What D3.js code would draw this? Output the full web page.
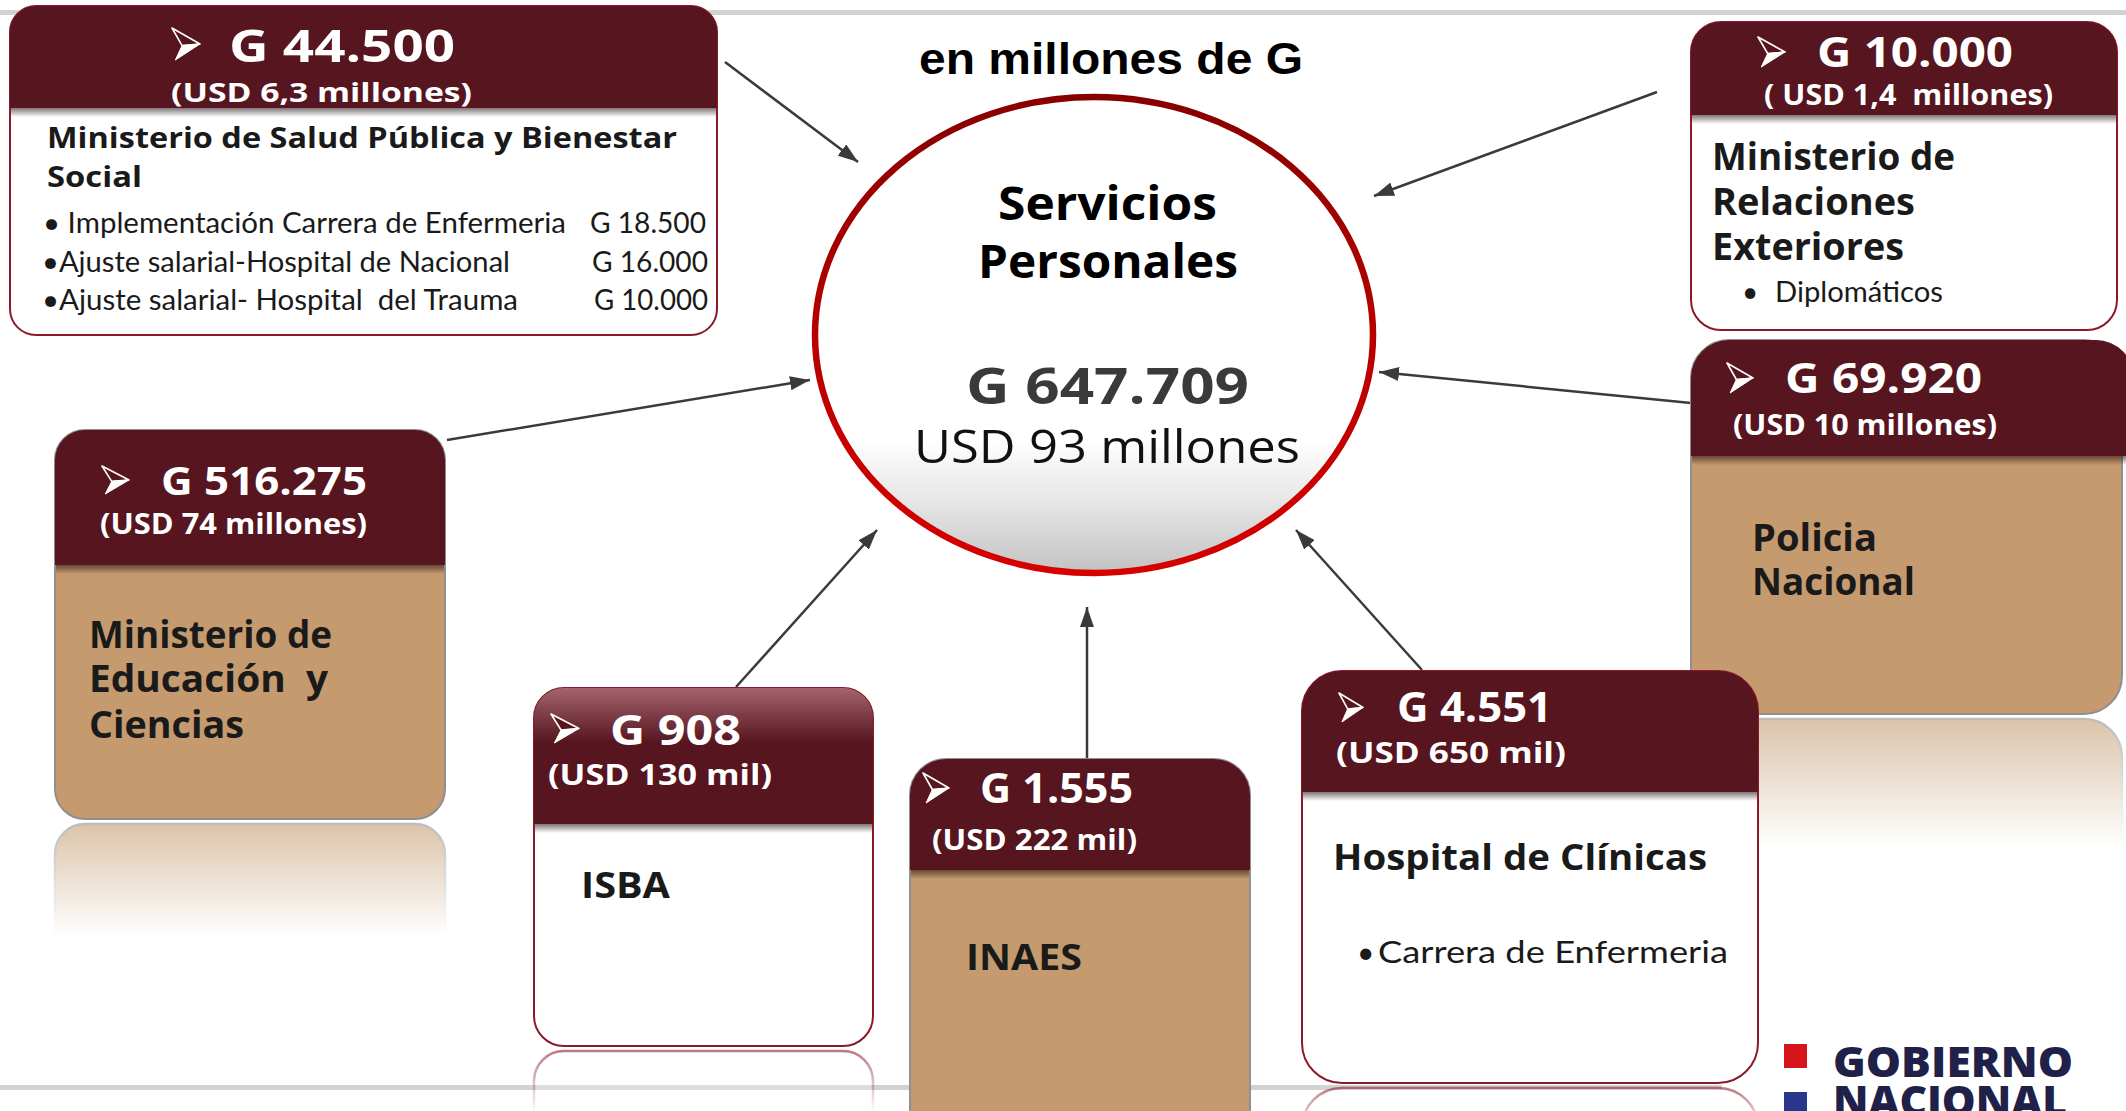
<!DOCTYPE html>
<html><head><meta charset="utf-8">
<script src="https://cdn.jsdelivr.net/npm/d3@7"></script>
<style>html,body{margin:0;padding:0;background:#fff;overflow:hidden}text{white-space:pre}</style>
</head><body><svg id="c"></svg>
<script>
// ---------------- DATA ----------------
const chartTitle = "en millones de G";
const centerTitle = ["Servicios", "Personales"];
const totalG = 647709;
const totalUSD = "USD 93 millones";
const entityLines = [
  ["Ministerio de Salud Pública y Bienestar", "Social"],
  ["Ministerio de", "Relaciones", "Exteriores"],
  ["Ministerio de", "Educación  y", "Ciencias"],
  ["Policia", "Nacional"],
  ["ISBA"],
  ["INAES"],
  ["Hospital de Clínicas"]
];
const amountsG = [44500, 10000, 516275, 69920, 908, 1555, 4551];
const amountsUSD = ["(USD 6,3 millones)", "( USD 1,4  millones)", "(USD 74 millones)", "(USD 10 millones)", "(USD 130 mil)", "(USD 222 mil)", "(USD 650 mil)"];
const entityNotes = [null, "Diplomáticos", null, null, null, null, "Carrera de Enfermeria"];
const mspItems = ["• Implementación Carrera de Enfermeria", "•Ajuste salarial-Hospital de Nacional", "•Ajuste salarial- Hospital  del Trauma"];
const mspItemValues = [18500, 16000, 10000];
const logoLines = ["GOBIERNO", "NACIONAL"];

// ---------------- LAYOUT ----------------
const W = 2126, H = 1111;
const MAROON = "#56151f", TAN = "#c49a6e", BORDER = "#8a1a2a";
const boxLayout = [
  {x:10,y:6,w:707,h:329,hh:102,r:26,tan:false,arrow:[172,28,28,32],num:{x:229,y:62,fs:45,w:226},usd:{x:171,y:102,fs:27,w:301},title:{x:47,ys:[148,187],fs:29,ws:[630,95]}},
  {x:1691,y:22,w:426,h:308,hh:93,r:30,tan:false,arrow:[1758,37,27,30],num:{x:1817,y:67,fs:42,w:196},usd:{x:1764,y:105,fs:29,w:289},title:{x:1712,ys:[170,215,260],fs:37,ws:[243,203,192]},note:{bx:1742,x:1775,y:302,fs:28,w:168}},
  {x:55,y:430,w:390,h:389,hh:135,r:30,tan:true,refl:110,arrow:[102,466,27,28],num:{x:161,y:495,fs:40,w:206},usd:{x:100,y:534,fs:28,w:267},title:{x:89,ys:[648,692,738],fs:37,ws:[243,239,155]}},
  {x:1691,y:340,w:431,h:374,hh:116,r:38,tan:true,refl:126,extra:12,arrow:[1727,363,26,30],num:{x:1785,y:393,fs:42,w:197},usd:{x:1733,y:435,fs:28,w:264},title:{x:1752,ys:[551,595],fs:38,ws:[125,163]}},
  {x:534,y:688,w:339,h:358,hh:136,r:30,tan:false,refl:60,gloss:true,arrow:[551,714,28,29],num:{x:610,y:745,fs:41,w:131},usd:{x:548,y:785,fs:29,w:224},title:{x:581,ys:[898],fs:36,ws:[89]}},
  {x:910,y:759,w:340,h:420,hh:111,r:36,tan:true,arrow:[923,773,26,30],num:{x:980,y:803,fs:41,w:153},usd:{x:932,y:850,fs:28,w:205},title:{x:966,ys:[970],fs:36,ws:[116]}},
  {x:1302,y:671,w:456,h:412,hh:121,r:40,tan:false,refl:40,arrow:[1339,693,24,29],num:{x:1397,y:722,fs:41,w:155},usd:{x:1336,y:763,fs:29,w:230},title:{x:1333,ys:[870],fs:35,ws:[374]},note:{bx:1357,x:1378,y:963,fs:30,w:350}}
];
const mspItemLayout = {x:[43,42,42], w:[523,468,476], vx:[590,592,594], vw:[116,116,114], ys:[233,272,310], fs:28};
const connectors = [[725,62,858,162],[1657,92,1374,196],[447,440,810,380],[1691,403,1379,372],[736,687,877,530],[1087,759,1087,607],[1422,670,1296,530]];

// ---------------- DRAW ----------------
const HEAD = "'Open Sans', sans-serif", BODY = "Lato, sans-serif";
const svg = d3.select("#c").attr("width", W).attr("height", H).attr("viewBox", `0 0 ${W} ${H}`);
svg.append("rect").attr("width", W).attr("height", H).attr("fill", "#fff");
const defs = svg.append("defs");
const es = d3.formatLocale({decimal: ",", thousands: ".", grouping: [3], currency: ["", ""]});
const fmt = es.format(",");
const gLabel = v => "G " + fmt(v);

function linGrad(id, stops) {
  const g = defs.append("linearGradient").attr("id", id).attr("x1", 0).attr("y1", 0).attr("x2", 0).attr("y2", 1);
  stops.forEach(([o, c, op]) => g.append("stop").attr("offset", o).attr("stop-color", c).attr("stop-opacity", op == null ? 1 : op));
}
linGrad("ellFill", [[0, "#fff"], [0.72, "#fff"], [0.85, "#e6e6e6"], [1, "#c2c2c2"]]);
linGrad("ellStroke", [[0, "#870000"], [0.5, "#b80000"], [1, "#d60000"]]);
linGrad("hdrShadow", [[0, "#1a0508", 0.55], [1, "#1a0508", 0]]);
linGrad("gloss", [[0, "#a4646e"], [0.4, MAROON], [1, MAROON]]);
linGrad("fade", [[0, "#fff", 0.6], [1, "#fff", 0]]);

defs.append("marker").attr("id", "ah").attr("viewBox", "0 0 10 10").attr("refX", 10).attr("refY", 5)
  .attr("markerWidth", 20).attr("markerHeight", 14).attr("markerUnits", "userSpaceOnUse")
  .attr("preserveAspectRatio", "none").attr("orient", "auto")
  .append("path").attr("d", "M0,0 L10,5 L0,10 Z").attr("fill", "#3a3a3a");

function rr(x, y, w, h, rt, rb) {
  return `M${x},${y + rt} A${rt},${rt} 0 0 1 ${x + rt},${y} L${x + w - rt},${y} A${rt},${rt} 0 0 1 ${x + w},${y + rt} L${x + w},${y + h - rb} A${rb},${rb} 0 0 1 ${x + w - rb},${y + h} L${x + rb},${y + h} A${rb},${rb} 0 0 1 ${x},${y + h - rb} Z`;
}
function txt(g, s, x, y, o) {
  const t = g.append("text").attr("x", x).attr("y", y).text(s)
    .attr("font-family", o.ff || HEAD).attr("font-size", o.fs).attr("font-weight", o.fw || 700)
    .attr("fill", o.fill || "#1a1a1a");
  if (o.w) t.attr("textLength", o.w).attr("lengthAdjust", "spacingAndGlyphs");
  if (o.anchor) t.attr("text-anchor", o.anchor);
  return t;
}

// gray rules
svg.append("rect").attr("x", 0).attr("y", 10).attr("width", W).attr("height", 5).attr("fill", "#d2d2d2");
svg.append("rect").attr("x", 0).attr("y", 1085).attr("width", 1722).attr("height", 5).attr("fill", "#d2d2d2");

// connectors
svg.append("g").selectAll("line").data(connectors).join("line")
  .attr("x1", d => d[0]).attr("y1", d => d[1]).attr("x2", d => d[2]).attr("y2", d => d[3])
  .attr("stroke", "#3a3a3a").attr("stroke-width", 2.5).attr("marker-end", "url(#ah)");

// title
txt(svg, chartTitle, 919, 74, {ff: "'Liberation Sans', Arial, sans-serif", fs: 45, w: 384, fill: "#000"});

// center ellipse
svg.append("ellipse").attr("cx", 1094).attr("cy", 335).attr("rx", 279).attr("ry", 238)
  .attr("fill", "url(#ellFill)").attr("stroke", "url(#ellStroke)").attr("stroke-width", 6.5);
txt(svg, centerTitle[0], 1107.5, 220, {fs: 46, w: 219, anchor: "middle", fill: "#000"});
txt(svg, centerTitle[1], 1108, 278, {fs: 46, w: 260, anchor: "middle", fill: "#000"});
txt(svg, gLabel(totalG), 1107.5, 404, {fs: 50, w: 283, anchor: "middle", fill: "#3a3a3a"});
txt(svg, totalUSD, 1107, 463, {fs: 46, w: 386, fw: 400, anchor: "middle", fill: "#111"});

// boxes
boxLayout.forEach((L, i) => {
  const g = svg.append("g");
  const fill = L.tan ? TAN : "#fff";
  const stroke = L.tan ? "#8f8f8f" : BORDER;
  const ex = L.extra || 0;
  if (L.refl) {
    const ry = L.y + L.h + 5;
    const mid = "m" + i;
    const mk = defs.append("mask").attr("id", mid).attr("maskUnits", "userSpaceOnUse")
      .attr("x", L.x - 5).attr("y", ry - 2).attr("width", L.w + 10).attr("height", L.refl + 4);
    mk.append("rect").attr("x", L.x - 5).attr("y", ry - 2).attr("width", L.w + 10).attr("height", L.refl + 4).attr("fill", "url(#fade)");
    g.append("path").attr("d", rr(L.x, ry, L.w, L.refl + 60, L.r, 0))
      .attr("fill", fill).attr("stroke", stroke).attr("stroke-width", 2.5).attr("mask", `url(#${mid})`);
  }
  g.append("path").attr("d", rr(L.x, L.y, L.w, L.h, L.r, L.r))
    .attr("fill", fill).attr("stroke", stroke).attr("stroke-width", 2);
  g.append("path").attr("d", rr(L.x, L.y, L.w + ex, L.hh, L.r, 0))
    .attr("fill", L.gloss ? "url(#gloss)" : MAROON);
  g.append("rect").attr("x", L.x + 1).attr("y", L.y + L.hh).attr("width", L.w - 2 + ex).attr("height", 9).attr("fill", "url(#hdrShadow)");
  // arrowhead glyph
  const [ax, ay, aw, ah] = L.arrow;
  const A = [ax, ay], T = [ax + aw, ay + ah * 0.5], B = [ax + aw * 0.12, ay + ah], N = [ax + aw * 0.36, ay + ah * 0.55];
  g.append("path").attr("d", `M${A}L${T}L${N}Z`).attr("fill", MAROON).attr("stroke", "#fff").attr("stroke-width", 1.6).attr("stroke-linejoin", "round");
  g.append("path").attr("d", `M${N}L${T}L${B}Z`).attr("fill", "#fff").attr("stroke", "#fff").attr("stroke-width", 1).attr("stroke-linejoin", "round");
  txt(g, gLabel(amountsG[i]), L.num.x, L.num.y, {fs: L.num.fs, w: L.num.w, fill: "#fff"});
  txt(g, amountsUSD[i], L.usd.x, L.usd.y, {fs: L.usd.fs, w: L.usd.w, fill: "#fff"});
  entityLines[i].forEach((s, k) => txt(g, s, L.title.x, L.title.ys[k], {fs: L.title.fs, w: L.title.ws[k], fill: "#1a1a1a"}));
  if (entityNotes[i] && L.note) {
    txt(g, "•", L.note.bx, L.note.y, {ff: BODY, fs: L.note.fs, fw: 400});
    txt(g, entityNotes[i], L.note.x, L.note.y, {ff: BODY, fs: L.note.fs, fw: 400, w: L.note.w});
  }
  if (i === 0) {
    mspItems.forEach((s, k) => {
      txt(g, s, mspItemLayout.x[k], mspItemLayout.ys[k], {ff: BODY, fs: mspItemLayout.fs, fw: 400, w: mspItemLayout.w[k]});
      txt(g, gLabel(mspItemValues[k]), mspItemLayout.vx[k], mspItemLayout.ys[k], {ff: BODY, fs: mspItemLayout.fs, fw: 400, w: mspItemLayout.vw[k]});
    });
  }
});

// logo
svg.append("rect").attr("x", 1784).attr("y", 1044).attr("width", 23).attr("height", 24).attr("fill", "#d8141b");
svg.append("rect").attr("x", 1784).attr("y", 1092).attr("width", 23).attr("height", 24).attr("fill", "#28378a");
txt(svg, logoLines[0], 1833, 1077, {fs: 42, fw: 800, w: 240, fill: "#1f2149"});
txt(svg, logoLines[1], 1833, 1116, {fs: 42, fw: 800, w: 234, fill: "#1f2149"});
</script>
</body></html>
